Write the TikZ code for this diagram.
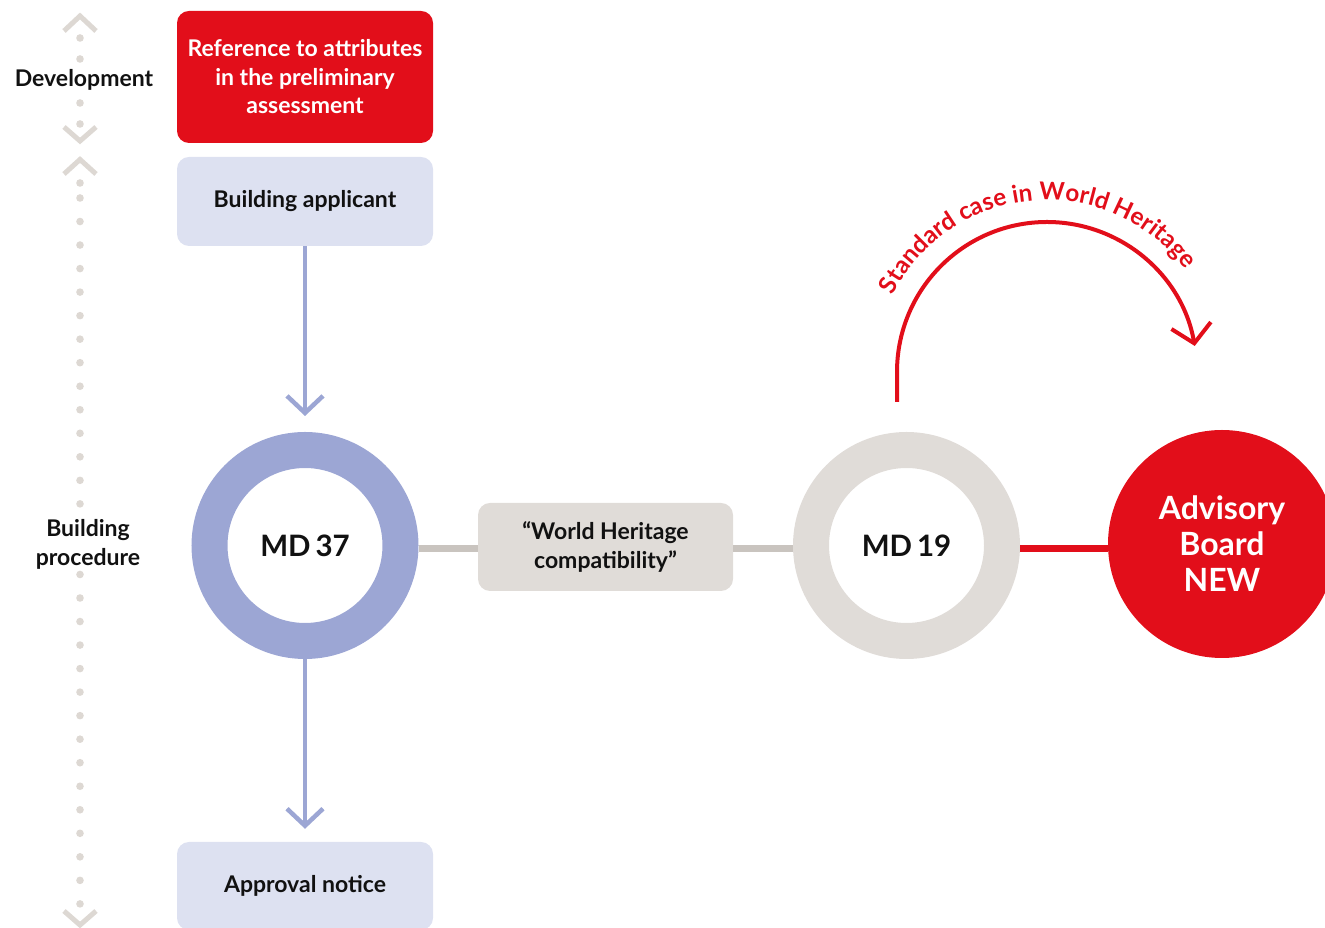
\documentclass[tikz,border=0pt]{standalone}
\usepackage{fontspec}
\setmainfont{Lato}
\usetikzlibrary{arrows.meta,decorations.text}

\definecolor{brandred}{HTML}{E20E1A}
\definecolor{lavdark}{HTML}{9CA6D4}
\definecolor{lavlight}{HTML}{DDE1F1}
\definecolor{sand}{HTML}{E0DCD8}
\definecolor{linkgray}{HTML}{C9C4BF}
\definecolor{dotgray}{HTML}{DDD8D3}
\definecolor{ink}{HTML}{111111}

\begin{document}
\begin{tikzpicture}[x=1pt,y=1pt,
  bodyfont/.style={font=\fontsize{23}{28.5}\selectfont\bfseries},
  stepbox/.style={rectangle, rounded corners=12pt, minimum width=256pt,
    inner sep=0pt, align=center, bodyfont},
  redbox/.style={stepbox, fill=brandred, text=white, minimum height=132pt},
  lavbox/.style={stepbox, fill=lavlight, text=ink, minimum height=89pt},
  sandbox/.style={stepbox, fill=sand, text=ink, minimum width=255pt, minimum height=88pt},
  ring/.style={circle, line width=36pt, minimum size=191pt, inner sep=0pt,
    text=ink, font=\fontsize{29.5}{29.5}\selectfont\bfseries},
  lbl/.style={text=ink, align=center, font=\fontsize{23}{29}\selectfont\bfseries},
  lavarrow/.style={draw=lavdark, line width=4.5pt,
    -{Straight Barb[length=17pt,width=36pt]}},
  graylink/.style={draw=linkgray, line width=7pt},
  redlink/.style={draw=brandred, line width=7pt},
  redarrow/.style={draw=brandred, line width=4pt,
    -{Straight Barb[length=18pt,width=40pt]}},
  chev/.style={draw=dotgray, line width=5pt, line join=miter},
]
\useasboundingbox (0,0) rectangle (1325,928);

% timeline on the left
\draw[chev] (64,897) -- (80,912) -- (96,897);
\draw[chev] (64,801) -- (80,787) -- (96,801);
\draw[chev] (64,754) -- (80,768.5) -- (96,754);
\draw[chev] (64,17) -- (80,3) -- (96,17);
\foreach \yy in {890,869,825,804,745}
  \fill[dotgray] (80,\yy) circle (3.8pt);
\foreach \k in {0,...,30}{
  \ifnum\k=14\relax\else\ifnum\k=15\relax\else
    \fill[dotgray] (80,{730-23.53*\k}) circle (3.8pt);
  \fi\fi}

\node[lbl] (dev) at (84,848) {Development};
\node[lbl] (proc) at (88,383.5) {Building\\procedure};

% boxes
\node[redbox] (ref) at (305,851) {Reference to attributes\\in the preliminary\\assessment};
\node[lavbox] (appl) at (305,726.5) {Building applicant};
\node[lavbox, minimum height=88pt] (appr) at (305,42) {Approval notice};
\node[sandbox] (wh) at (605.5,381) {“World Heritage\\compatibility”};

% rings and circle
\node[ring, draw=lavdark] (md37) at (305,382.5) {MD\,37};
\node[ring, draw=sand] (md19) at (906.5,382.5) {MD\,19};
\node[circle, fill=brandred, minimum size=228pt, inner sep=0pt, text=white,
  align=center, font=\fontsize{32}{36}\selectfont\bfseries] (adv) at (1222,384)
  {Advisory\\Board\\NEW};

% connectors
\draw[lavarrow, shorten >=16pt] (appl.south) -- (md37.north);
\draw[lavarrow, shorten >=13pt] (md37.south) -- (appr.north);
\draw[graylink] ([yshift=-3.5pt]md37.east) -- ([yshift=-2pt]wh.west);
\draw[graylink] ([yshift=-2pt]wh.east) -- ([yshift=-3.5pt]md19.west);
\draw[redlink] ([yshift=-3.5pt]md19.east) -- ([yshift=-5pt]adv.west);

% standard case arc
\coordinate (arcstart) at (897,526);
\coordinate (arccenter) at (1047,556);
\draw[redarrow] (arcstart) -- (897,556) arc[start angle=180, end angle=10, radius=150pt];
\path[decorate, decoration={text along path, text align=center,
    text={|\fontsize{24.3}{24.3}\selectfont\bfseries\color{brandred}|Standard case in World Heritage}}]
  (arccenter) ++(185:172pt) arc[start angle=185, end angle=5, radius=172pt];
\end{tikzpicture}
\end{document}
